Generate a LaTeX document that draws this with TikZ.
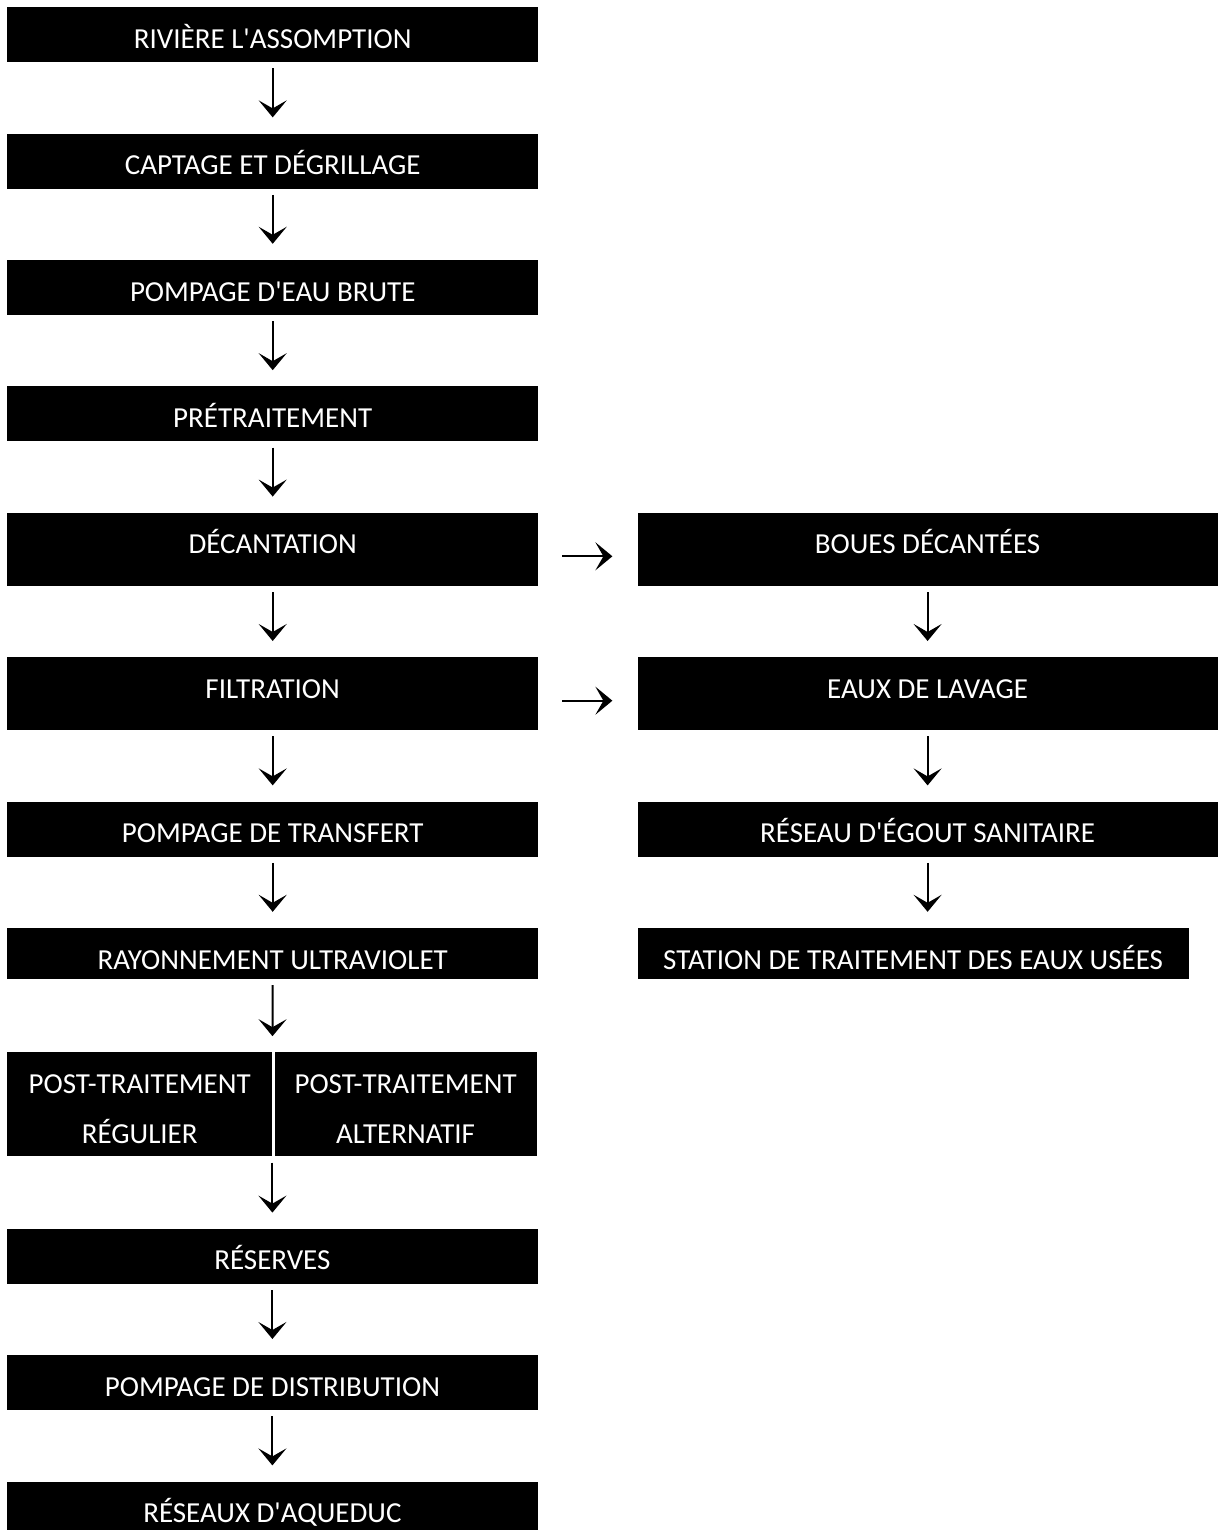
\documentclass[tikz,border=0pt]{standalone}
\usepackage{fontspec}
\setmainfont{Carlito}
\usetikzlibrary{arrows.meta,positioning}
\newcommand{\apos}{\textquotesingle{}}
\tikzset{
  stepbox/.style={fill=black,text=white,inner sep=0pt,minimum width=531pt,
                  text height=41pt,text depth=14pt,font=\fontsize{29}{35}\selectfont},
  tallbox/.style={stepbox,text depth=32pt},
  lowbox/.style={stepbox,text depth=10pt},
  sidebox/.style={stepbox,minimum width=580pt},
  postbox/.style={fill=black,text=white,inner sep=0pt,text height=91pt,text depth=13pt,
                  align=center,font=\fontsize{29}{50}\selectfont},
  flow/.style={-{Stealth[length=17pt,width=28pt,inset=8pt]},line width=2pt,
               shorten <=6pt,shorten >=16pt},
  side/.style={-{Stealth[length=17pt,width=28pt,inset=8pt]},line width=2pt,
               shorten <=24pt,shorten >=25pt},
}
\begin{document}
\begin{tikzpicture}[node distance=71pt]
  \useasboundingbox (0,0) rectangle (1218pt,-1530pt);

  % main line
  \node[stepbox,anchor=north west] (riv) at (7pt,-7pt) {RIVIÈRE L\apos{}ASSOMPTION};
  \node[stepbox,below=of riv] (capt) {CAPTAGE ET DÉGRILLAGE};
  \node[stepbox,below=of capt] (brute) {POMPAGE D\apos{}EAU BRUTE};
  \node[stepbox,below=of brute] (pretr) {PRÉTRAITEMENT};
  \node[tallbox,below=of pretr] (dec) {DÉCANTATION};
  \node[tallbox,below=of dec] (filt) {FILTRATION};
  \node[stepbox,below=of filt] (transf) {POMPAGE DE TRANSFERT};
  \node[lowbox,below=of transf] (ray) {RAYONNEMENT ULTRAVIOLET};
  \node[postbox,minimum width=265pt,below=73pt of ray.south west,anchor=north west] (postl)
    {POST-TRAITEMENT\\RÉGULIER};
  \node[postbox,minimum width=262pt,right=2pt of postl.north east,anchor=north west] (postr)
    {POST-TRAITEMENT\\ALTERNATIF};
  \node[stepbox,below=72pt of postl.south east] (res) {RÉSERVES};
  \node[stepbox,below=of res] (distr) {POMPAGE DE DISTRIBUTION};
  \node[stepbox,below=of distr] (aqued) {RÉSEAUX D\apos{}AQUEDUC};

  % side line
  \node[tallbox,minimum width=580pt,right=99pt of dec] (boues) {BOUES DÉCANTÉES};
  \node[tallbox,minimum width=580pt,below=of boues] (lavage) {EAUX DE LAVAGE};
  \node[sidebox,below=of lavage] (egout) {RÉSEAU D\apos{}ÉGOUT SANITAIRE};
  \node[lowbox,minimum width=551pt,below=of egout.south west,anchor=north west] (station)
    {STATION DE TRAITEMENT DES EAUX USÉES};

  \draw[flow] (riv) -- (capt);
  \draw[flow] (capt) -- (brute);
  \draw[flow] (brute) -- (pretr);
  \draw[flow] (pretr) -- (dec);
  \draw[flow] (dec) -- (filt);
  \draw[flow] (filt) -- (transf);
  \draw[flow] (transf) -- (ray);
  \draw[flow] (ray.south) -- (postl.north east);
  \draw[flow] (postl.south east) -- (res.north);
  \draw[flow] (res) -- (distr);
  \draw[flow] (distr) -- (aqued);

  \draw[side] ([yshift=-7pt]dec.east) -- ([yshift=-7pt]boues.west);
  \draw[side] ([yshift=-7pt]filt.east) -- ([yshift=-7pt]lavage.west);
  \draw[flow] (boues) -- (lavage);
  \draw[flow] (lavage) -- (egout);
  \draw[flow] (egout.south) -- (station.north -| egout.south);
\end{tikzpicture}
\end{document}
